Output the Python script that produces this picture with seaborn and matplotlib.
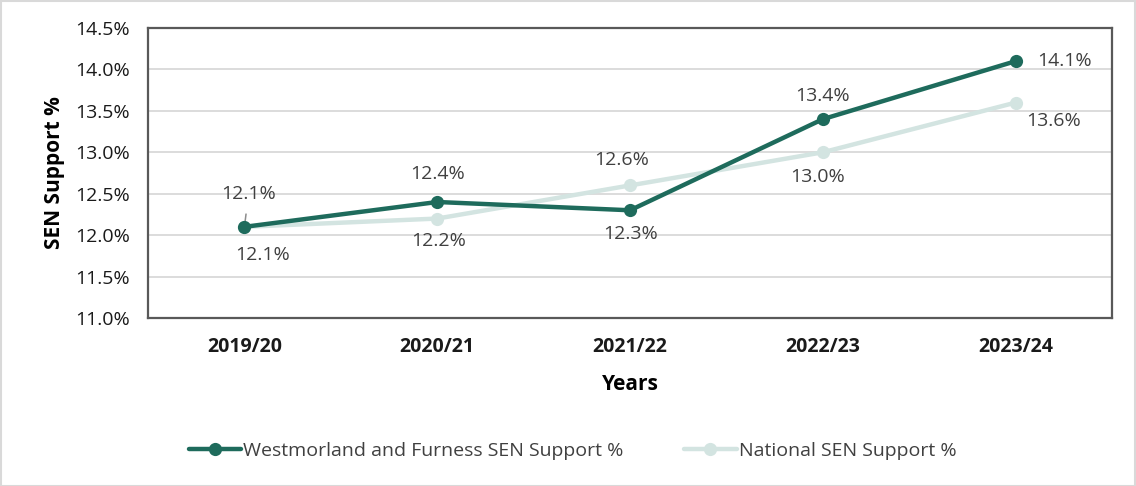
import matplotlib
matplotlib.use("Agg")
import matplotlib.pyplot as plt
import seaborn as sns
import pandas as pd
from matplotlib.patches import Rectangle

years = ["2019/20", "2020/21", "2021/22", "2022/23", "2023/24"]
wf_values = [12.1, 12.4, 12.3, 13.4, 14.1]
nat_values = [12.1, 12.2, 12.6, 13.0, 13.6]
wf_name = "Westmorland and Furness SEN Support %"
nat_name = "National SEN Support %"
yticks = [11.0, 11.5, 12.0, 12.5, 13.0, 13.5, 14.0, 14.5]

sns.set_theme(style="white")
plt.rcParams['font.family'] = ['Open Sans', 'DejaVu Sans']

dark = "#1e6b5c"
light = "#d3e4e1"
txt = "#404040"

df = pd.DataFrame({
    "Years": years * 2,
    "value": wf_values + nat_values,
    "series": [wf_name] * len(years) + [nat_name] * len(years),
})
df["x"] = list(range(len(years))) * 2

fig = plt.figure(figsize=(11.36, 4.86), dpi=100)
fig.patches.append(Rectangle((0.001, 0.001), 0.998, 0.997, transform=fig.transFigure,
                             fill=False, edgecolor="#d9d9d9", linewidth=1.5))
ax = fig.add_axes([0.1303, 0.3457, 0.8487, 0.5967])

sns.lineplot(data=df[df.series == nat_name], x="x", y="value", ax=ax, color=light,
             linewidth=3.2, marker="o", markersize=9.5, markeredgewidth=0, label=nat_name, zorder=3)
sns.lineplot(data=df[df.series == wf_name], x="x", y="value", ax=ax, color=dark,
             linewidth=3.2, marker="o", markersize=9.5, markeredgewidth=0, label=wf_name, zorder=4)

ax.set_xlim(-0.5, len(years) - 0.5)
ax.set_ylim(11.0, 14.5)
ax.set_yticks(yticks)
ax.set_yticklabels([f"{v:.1f}%" for v in yticks], fontsize=14, color="#1a1a1a")
ax.set_xticks(range(len(years)))
ax.set_xticklabels(years, fontsize=14, fontweight="bold", color="#1a1a1a")
ax.tick_params(axis="x", pad=14, length=0)
ax.tick_params(axis="y", pad=13, length=0)
ax.grid(axis="y", color="#d9d9d9", linewidth=1.3)
ax.set_axisbelow(True)
for s in ax.spines.values():
    s.set_color("#595959")
    s.set_linewidth(1.6)
ax.set_xlabel("Years", fontsize=15, fontweight="bold", labelpad=12, color="#000000")
ax.set_ylabel("SEN Support %", fontsize=15, fontweight="bold", labelpad=7, color="#000000")

fs = 14
wf_off = [(3, 24), (0, 20), (0, -17), (0, 17), (35, 0)]
for i, (v, off) in enumerate(zip(wf_values, wf_off)):
    if i == 0:
        ax.annotate(f"{v:.1f}%", xy=(i, v), xytext=off, textcoords="offset points",
                    ha="center", va="center", fontsize=fs, color=txt,
                    arrowprops=dict(arrowstyle="-", color="#8c8c8c", lw=1.1, shrinkA=6, shrinkB=1))
    else:
        ax.annotate(f"{v:.1f}%", xy=(i, v), xytext=off, textcoords="offset points",
                    ha="center", va="center", fontsize=fs, color=txt)
nat_off = [(13, -20), (1, -16), (-6, 18), (-4, -18), (27, -13)]
for i, (v, off) in enumerate(zip(nat_values, nat_off)):
    ax.annotate(f"{v:.1f}%", xy=(i, v), xytext=off, textcoords="offset points",
                ha="center", va="center", fontsize=fs, color=txt)

h, l = ax.get_legend_handles_labels()
order = [l.index(wf_name), l.index(nat_name)]
leg = ax.legend([h[k] for k in order], [l[k] for k in order], loc="center",
                bbox_to_anchor=(0.504, 0.072), bbox_transform=fig.transFigure,
                ncol=2, frameon=False, fontsize=14, handlelength=2.7,
                handletextpad=0.1, columnspacing=3.1)
for t in leg.get_texts():
    t.set_color(txt)

fig.savefig("out.png", dpi=100)
